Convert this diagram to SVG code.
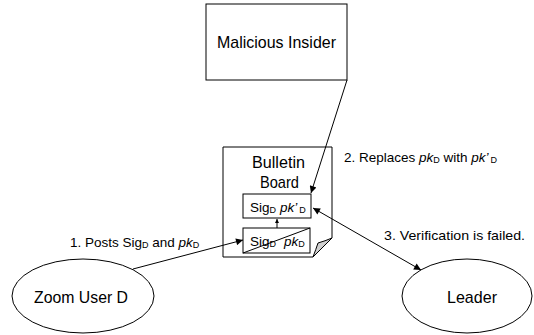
<svg xmlns="http://www.w3.org/2000/svg" width="534" height="335" viewBox="0 0 534 335">
<style>
text{font-family:"Liberation Sans",Arial,sans-serif;fill:#000}
.n{font-size:17px}
.l{font-size:13.5px}
.b{font-size:13.5px}
.s{font-size:9px}
.shape{fill:#fff;stroke:#000;stroke-width:1}
.c{stroke:#000;stroke-width:1;fill:none}
</style>
<defs>
<marker id="ah" viewBox="0 0 10 10" refX="10" refY="5" markerWidth="9" markerHeight="7" markerUnits="userSpaceOnUse" orient="auto-start-reverse">
<path d="M0,0 L10,5 L0,10 Z" fill="#000"/>
</marker>
<marker id="sh" viewBox="0 0 10 10" refX="10" refY="5" markerWidth="5" markerHeight="4" markerUnits="userSpaceOnUse" orient="auto">
<path d="M0,0 L10,5 L0,10 Z" fill="#000"/>
</marker>
</defs>
<rect width="534" height="335" fill="#fff"/>
<g id="insider">
<rect class="shape" x="206" y="4" width="141" height="76"/>
<text class="n" x="217" y="48" textLength="119" lengthAdjust="spacingAndGlyphs">Malicious Insider</text>
</g>
<g id="board">
<path class="shape" d="M223,147 H332 V238 L313,257 H223 Z"/>
<path d="M313,257 Q316,249 318,243 Q325,241 332,238 Z" fill="#d0d0d0" stroke="#000" stroke-width="1"/>
<text class="n" x="252" y="168" textLength="53" lengthAdjust="spacingAndGlyphs">Bulletin</text>
<text class="n" x="260" y="188" textLength="39" lengthAdjust="spacingAndGlyphs">Board</text>
</g>
<g id="sig-new">
<rect class="shape" x="243" y="194" width="68" height="24"/>
<text class="b" x="250" y="212">Sig<tspan class="s" dy="1">D</tspan><tspan dy="-1" dx="4" font-style="italic">pk’</tspan><tspan class="s" dy="1" dx="2">D</tspan></text>
</g>
<g id="sig-old">
<rect class="shape" x="243" y="228" width="67" height="25"/>
<text class="b" x="250" y="246">Sig<tspan class="s" dy="1">D</tspan><tspan dy="-1" dx="8" font-style="italic">pk</tspan><tspan class="s" dy="1">D</tspan></text>
<line class="c" x1="243" y1="253" x2="310" y2="228"/>
</g>
<g id="zoom-user">
<ellipse class="shape" cx="83" cy="296" rx="71" ry="37"/>
<text class="n" x="34" y="303" textLength="94" lengthAdjust="spacingAndGlyphs">Zoom User D</text>
</g>
<g id="leader">
<ellipse class="shape" cx="467" cy="296" rx="65" ry="37"/>
<text class="n" x="447" y="303" textLength="50" lengthAdjust="spacingAndGlyphs">Leader</text>
</g>
<g id="connectors">
<line class="c" x1="133" y1="269" x2="243" y2="240" marker-end="url(#ah)"/>
<line class="c" x1="347" y1="80" x2="311" y2="193" marker-end="url(#ah)"/>
<line class="c" x1="313" y1="208" x2="421" y2="270" marker-start="url(#ah)" marker-end="url(#ah)"/>
<line class="c" x1="277" y1="228" x2="277" y2="219" marker-end="url(#sh)"/>
</g>
<g id="labels">
<text class="l" x="70" y="247">1. Posts Sig<tspan class="s" dy="1">D</tspan><tspan dy="-1"> and </tspan><tspan font-style="italic">pk</tspan><tspan class="s" dy="1">D</tspan></text>
<text class="l" x="344" y="162">2. Replaces <tspan font-style="italic">pk</tspan><tspan class="s" dy="1">D</tspan><tspan dy="-1"> with </tspan><tspan font-style="italic">pk’</tspan><tspan class="s" dy="1" dx="2">D</tspan></text>
<text class="l" x="384" y="240" font-size="14" textLength="141" lengthAdjust="spacingAndGlyphs">3. Verification is failed.</text>
</g>
</svg>
